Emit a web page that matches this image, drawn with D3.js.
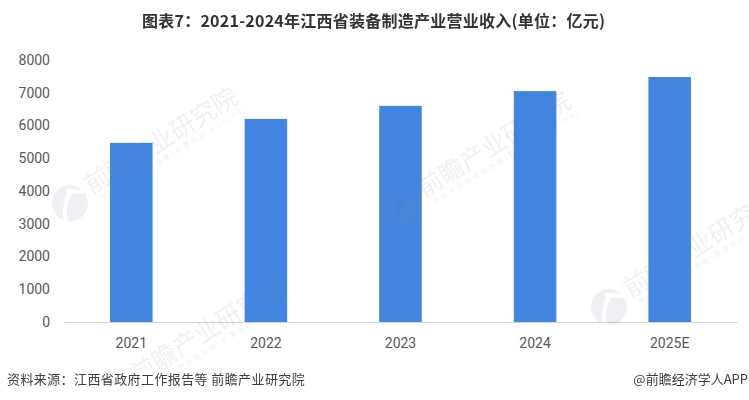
<!DOCTYPE html>
<html><head><meta charset="utf-8">
<script src="https://cdn.jsdelivr.net/npm/d3@7/dist/d3.min.js"></script>
<style>html,body{margin:0;padding:0;background:#fff}svg{display:block}</style></head>
<body><svg id="c" width="749" height="400"></svg>
<script>
const categories=["2021","2022","2023","2024","2025E"];
const values=[5470,6200,6600,7050,7480];
const yTicks=[0,1000,2000,3000,4000,5000,6000,7000,8000];
const titleText="图表7:2021-2024年江西省装备制造产业营业收入(单位:亿元)".replace(/:/g,"：");
const sourceText="资料来源:江西省政府工作报告等 前瞻产业研究院".replace(":","：");
const creditText="@前瞻经济学人APP";
const watermarkName="前瞻产业研究院";
const watermarkSub="中国产业咨询领导者(股票代码 839399)";
const watermarkSpots=[[70,203],[403,207],[609,307],[116,393]];
const cjk='"Noto Sans CJK SC","Noto Sans",sans-serif';
const latin="Roboto,'Noto Sans',sans-serif";
const svg=d3.select("#c");
const x=d3.scaleBand().domain(categories).range([64,737]).paddingInner(0.684).paddingOuter(0.342);
const y=d3.scaleLinear().domain([0,8000]).range([322,60]);
// logo mask: a curved stroke and arm cut out of the watermark disc
const mask=svg.append("defs").append("mask").attr("id","logoCut").attr("maskUnits","userSpaceOnUse")
 .attr("x",-25).attr("y",-25).attr("width",50).attr("height",50);
mask.append("rect").attr("x",-25).attr("y",-25).attr("width",50).attr("height",50).attr("fill","#fff");
mask.append("path").attr("d","M-4,19 C-7,6 -3,-8 2,-13 M-4,-12 L14,-11").attr("fill","none").attr("stroke","#000").attr("stroke-width",4);
// bars
svg.append("g").selectAll("rect").data(values).join("rect")
 .attr("x",(d,i)=>x(categories[i])).attr("width",x.bandwidth())
 .attr("y",d=>y(d)).attr("height",d=>y(0)-y(d)).attr("fill","#4285e0");
// axes
const gx=svg.append("g").attr("transform","translate(0,322)").call(d3.axisBottom(x).tickSize(0).tickPadding(16));
gx.select(".domain").attr("stroke","#d4d4d4").attr("stroke-width",1);
gx.selectAll("text").attr("font-family",latin).attr("font-size",14).attr("fill","#595959");
const gy=svg.append("g").attr("transform","translate(50,0)").call(d3.axisLeft(y).tickValues(yTicks).tickFormat(d3.format("d")).tickSize(0).tickPadding(0));
gy.select(".domain").remove();
gy.selectAll("text").attr("font-family",latin).attr("font-size",14).attr("fill","#595959");
// watermarks, over the bars and faint
const wmLayer=svg.append("g").attr("opacity",0.13);
const wm=wmLayer.append("g").selectAll("g").data(watermarkSpots).join("g")
 .attr("transform",d=>`translate(${d[0]},${d[1]}) rotate(-32)`);
wm.append("text").attr("x",23).attr("y",4).attr("font-family",cjk).attr("font-size",25).attr("fill","#7f8aa3").text(watermarkName);
wm.append("text").attr("x",28).attr("y",15).attr("font-family",cjk).attr("font-size",7)
 .attr("textLength",170).attr("lengthAdjust","spacing").attr("fill","#7f8aa3").text(watermarkSub);
wmLayer.append("g").selectAll("g").data(watermarkSpots).join("g")
 .attr("transform",d=>`translate(${d[0]},${d[1]})`)
 .append("circle").attr("r",18).attr("fill","#7f8aa3").attr("mask","url(#logoCut)");
// footer band hides what runs below the plot image
svg.append("rect").attr("x",0).attr("y",369).attr("width",749).attr("height",31).attr("fill","#fff");
// texts
svg.append("text").attr("x",373.5).attr("y",27).attr("text-anchor","middle").attr("font-family",cjk)
 .attr("font-size",16).attr("font-weight",700).attr("fill","#333").attr("textLength",463).attr("lengthAdjust","spacing").text(titleText);
svg.append("text").attr("x",7).attr("y",384).attr("font-family",cjk).attr("font-size",13).attr("letter-spacing",0.4).attr("fill","#404040").text(sourceText);
svg.append("text").attr("x",748).attr("y",384).attr("text-anchor","end").attr("font-family",cjk).attr("font-size",13).attr("fill","#404040").text(creditText);
</script></body></html>
